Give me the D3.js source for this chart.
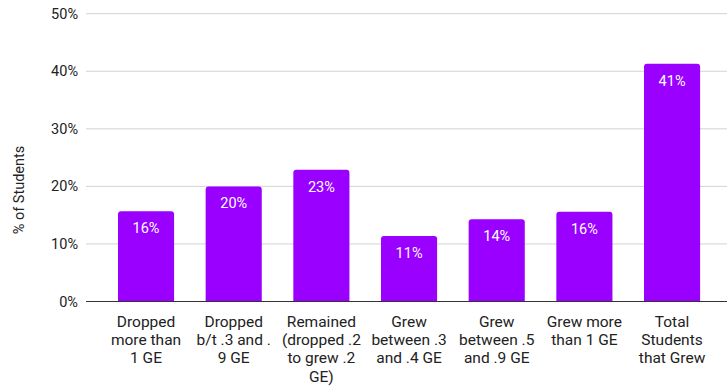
<!DOCTYPE html>
<html>
<head>
<meta charset="utf-8">
<script src="https://cdn.jsdelivr.net/npm/d3@7"></script>
<style>
  body { margin: 0; background: #fff; }
  text { font-family: Roboto, "Noto Sans", sans-serif; }
</style>
</head>
<body>
<div id="chart"></div>
<script>
// Categories (line breaks as in the original chart).
var categories = [
  'Dropped\nmore than\n1 GE',
  'Dropped\nb/t .3 and .\n9 GE',
  'Remained\n(dropped .2\nto grew .2\nGE)',
  'Grew\nbetween .3\nand .4 GE',
  'Grew\nbetween .5\nand .9 GE',
  'Grew more\nthan 1 GE',
  'Total\nStudents\nthat Grew'
];
var values = [0.157, 0.200, 0.229, 0.114, 0.143, 0.156, 0.413];
var yTicks = [0, 0.1, 0.2, 0.3, 0.4, 0.5];

var width = 727,
height = 386;

var svg = d3.select('#chart').append('svg')
  .attr('width', width)
  .attr('height', height);

var x = d3.scaleBand()
  .domain(categories)
  .range([102.2, 715.9])
  .paddingInner(0.36)
  .paddingOuter(0.18);

var y = d3.scaleLinear()
  .domain([0, 0.5])
  .range([301.5, 13.7]);

// Gridlines.
svg.append('g').selectAll('line')
  .data(yTicks.slice(1))
  .enter().append('line')
  .attr('x1', 86).attr('x2', width)
  .attr('y1', function (d) { return y(d); })
  .attr('y2', function (d) { return y(d); })
  .style('stroke', '#d3d3d3')
  .style('stroke-width', 1);

// Y tick labels.
svg.append('g').selectAll('text')
  .data(yTicks)
  .enter().append('text')
  .attr('x', 78)
  .attr('y', function (d) { return y(d); })
  .attr('dy', '0.35em')
  .attr('text-anchor', 'end')
  .style('font-size', '14.5px')
  .style('fill', '#222')
  .text(d3.format('.0%'));

// Bars with rounded top corners.
function barPath(d, i) {
  var x0 = x(categories[i]), w = x.bandwidth();
  var y0 = y(d), y1 = y(0), r = 3;
  return 'M' + x0 + ',' + y1 +
    'V' + (y0 + r) +
    'Q' + x0 + ',' + y0 + ' ' + (x0 + r) + ',' + y0 +
    'H' + (x0 + w - r) +
    'Q' + (x0 + w) + ',' + y0 + ' ' + (x0 + w) + ',' + (y0 + r) +
    'V' + y1 + 'Z';
}

svg.append('g').selectAll('path')
  .data(values)
  .enter().append('path')
  .attr('d', barPath)
  .style('fill', '#9900ff');

// Value labels.
svg.append('g').selectAll('text')
  .data(values)
  .enter().append('text')
  .attr('x', function (d, i) { return x(categories[i]) + x.bandwidth() / 2; })
  .attr('y', function (d) { return y(d) + 22; })
  .attr('text-anchor', 'middle')
  .style('font-size', '14.5px')
  .style('fill', '#fff')
  .text(d3.format('.0%'));

// Baseline.
svg.append('line')
  .attr('x1', 86).attr('x2', width)
  .attr('y1', y(0)).attr('y2', y(0))
  .style('stroke', '#333')
  .style('stroke-width', 1);

// X labels.
var xl = svg.append('g').selectAll('text')
  .data(categories)
  .enter().append('text')
  .attr('text-anchor', 'middle')
  .style('font-size', '15.5px')
  .style('fill', '#222');

xl.each(function (d) {
  var t = d3.select(this);
  var cx = x(d) + x.bandwidth() / 2;
  d.split('\n').forEach(function (line, j) {
    t.append('tspan')
      .attr('x', cx)
      .attr('y', 326.5 + j * 18.4)
      .text(line);
  });
});

// Y axis title.
svg.append('text')
  .attr('transform', 'translate(24,190) rotate(-90)')
  .attr('text-anchor', 'middle')
  .style('font-size', '14.5px')
  .style('fill', '#222')
  .text('% of Students');
</script>
</body>
</html>
